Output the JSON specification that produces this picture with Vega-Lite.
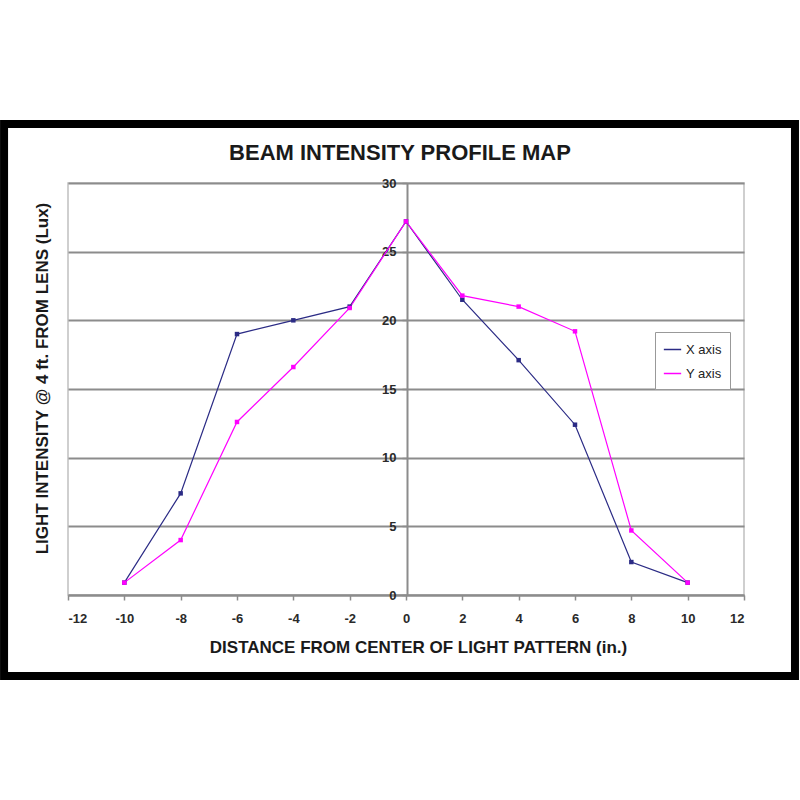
{
  "$schema": "https://vega.github.io/schema/vega-lite/v6.json",
  "width": 676,
  "height": 412,
  "autosize": {"type": "none"},
  "padding": {"left": 68, "top": 183, "right": 56, "bottom": 205},
  "background": "white",
  "title": {
    "text": "BEAM INTENSITY PROFILE MAP",
    "font": "Liberation Sans",
    "fontSize": 22,
    "fontWeight": "bold",
    "color": "#1a1a1a",
    "offset": -45,
    "dx": -6
  },
  "datasets": {
    "profile": [
      {"distance": -10, "intensity": 0.9, "series": "X axis"},
      {"distance": -8, "intensity": 7.4, "series": "X axis"},
      {"distance": -6, "intensity": 19.0, "series": "X axis"},
      {"distance": -4, "intensity": 20.0, "series": "X axis"},
      {"distance": -2, "intensity": 21.0, "series": "X axis"},
      {"distance": 0, "intensity": 27.2, "series": "X axis"},
      {"distance": 2, "intensity": 21.5, "series": "X axis"},
      {"distance": 4, "intensity": 17.1, "series": "X axis"},
      {"distance": 6, "intensity": 12.4, "series": "X axis"},
      {"distance": 8, "intensity": 2.4, "series": "X axis"},
      {"distance": 10, "intensity": 0.9, "series": "X axis"},
      {"distance": -10, "intensity": 0.9, "series": "Y axis"},
      {"distance": -8, "intensity": 4.0, "series": "Y axis"},
      {"distance": -6, "intensity": 12.6, "series": "Y axis"},
      {"distance": -4, "intensity": 16.6, "series": "Y axis"},
      {"distance": -2, "intensity": 20.9, "series": "Y axis"},
      {"distance": 0, "intensity": 27.2, "series": "Y axis"},
      {"distance": 2, "intensity": 21.8, "series": "Y axis"},
      {"distance": 4, "intensity": 21.0, "series": "Y axis"},
      {"distance": 6, "intensity": 19.2, "series": "Y axis"},
      {"distance": 8, "intensity": 4.7, "series": "Y axis"},
      {"distance": 10, "intensity": 0.9, "series": "Y axis"}
    ]
  },
  "layer": [
    {
      "data": {"values": [{"frame": "outer"}]},
      "mark": {"type": "rect", "fill": null, "stroke": "#000000", "strokeWidth": 8, "clip": false},
      "encoding": {
        "x": {"datum": -14.27, "type": "quantitative", "scale": {"domain": [-12, 12], "nice": false}},
        "x2": {"datum": 13.81},
        "y": {"datum": 34.3, "type": "quantitative", "scale": {"domain": [0, 30], "nice": false}},
        "y2": {"datum": -5.9}
      }
    },
    {
      "data": {"name": "profile"},
      "mark": {"type": "line", "strokeWidth": 1.2},
      "encoding": {
        "x": {
          "field": "distance",
          "type": "quantitative",
          "scale": {"domain": [-12, 12], "nice": false},
          "axis": {
            "title": "DISTANCE FROM CENTER OF LIGHT PATTERN (in.)",
            "values": [-12, -10, -8, -6, -4, -2, 0, 2, 4, 6, 8, 10, 12],
            "labelExpr": "'' + datum.value",
            "grid": false,
            "domainColor": "#8c8c8c",
            "domainWidth": 2,
            "tickColor": "#8c8c8c",
            "tickWidth": 1.5,
            "tickSize": 5,
            "labelPadding": 12,
            "labelFont": "Liberation Sans",
            "labelFontSize": 13,
            "labelFontWeight": "bold",
            "labelColor": "#2a2a2a",
            "titleFont": "Liberation Sans",
            "titleFontSize": 17,
            "titleFontWeight": "bold",
            "titleColor": "#1a1a1a",
            "titlePadding": 14,
            "titleX": 350
          }
        },
        "y": {
          "field": "intensity",
          "type": "quantitative",
          "scale": {"domain": [0, 30], "nice": false},
          "axis": {
            "title": "LIGHT INTENSITY @ 4 ft. FROM LENS (Lux)",
            "values": [0, 5, 10, 15, 20, 25, 30],
            "offset": -339,
            "grid": true,
            "gridColor": "#8c8c8c",
            "gridWidth": 2,
            "domainColor": "#8c8c8c",
            "domainWidth": 2,
            "tickColor": "#8c8c8c",
            "tickWidth": 1.5,
            "tickSize": 5,
            "labelPadding": 6,
            "labelFont": "Liberation Sans",
            "labelFontSize": 13,
            "labelFontWeight": "bold",
            "labelColor": "#2a2a2a",
            "titleFont": "Liberation Sans",
            "titleFontSize": 17,
            "titleFontWeight": "bold",
            "titleColor": "#1a1a1a",
            "titleX": -365,
            "titleY": 195,
            "titleAngle": -90,
            "titleBaseline": "middle",
            "titleAlign": "center"
          }
        },
        "color": {
          "field": "series",
          "type": "nominal",
          "scale": {"domain": ["X axis", "Y axis"], "range": ["#2b2b85", "#ff00ff"]},
          "legend": {
            "title": null,
            "orient": "none",
            "legendX": 587,
            "legendY": 149,
            "symbolType": "stroke",
            "symbolSize": 300,
            "symbolStrokeWidth": 1.5,
            "strokeColor": "#999999",
            "fillColor": "white",
            "padding": 8,
            "labelFont": "Liberation Sans",
            "labelFontSize": 13,
            "labelColor": "#222222",
            "rowPadding": 7
          }
        }
      }
    },
    {
      "data": {"name": "profile"},
      "mark": {"type": "point", "shape": "square", "filled": true, "size": 20, "opacity": 1},
      "encoding": {
        "x": {"field": "distance", "type": "quantitative"},
        "y": {"field": "intensity", "type": "quantitative"},
        "color": {"field": "series", "type": "nominal"}
      }
    }
  ],
  "config": {
    "view": {"stroke": "#c0c0c0", "strokeWidth": 1.5}
  }
}
